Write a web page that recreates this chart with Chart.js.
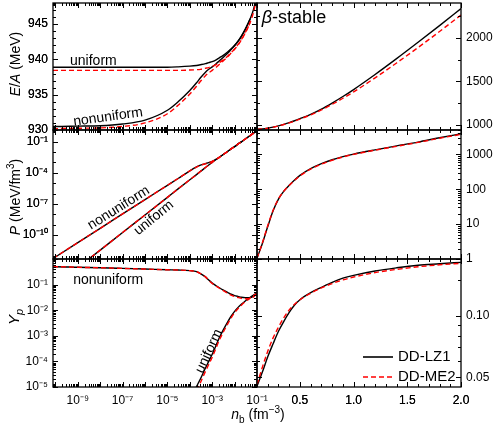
<!DOCTYPE html>
<html>
<head>
<meta charset="utf-8">
<script src="https://cdn.jsdelivr.net/npm/chart.js@4.4.0/dist/chart.umd.min.js"></script>
<style>
  body { margin: 0; background: #fff; }
  #wrap { position: relative; width: 498px; height: 430px; }
  #wrap canvas { position: absolute; left: 0; top: 0; }
</style>
</head>
<body>
<div id="wrap">
  <canvas id="p1" width="498" height="430"></canvas>
  <canvas id="p2" width="498" height="430"></canvas>
  <canvas id="p3" width="498" height="430"></canvas>
  <canvas id="p4" width="498" height="430"></canvas>
  <canvas id="p5" width="498" height="430"></canvas>
  <canvas id="p6" width="498" height="430"></canvas>
</div>
<script>
// ---- data ----
// low density side, n_b (fm^-3), log axis
const nbLow = [7.8e-11, 1e-10, 1e-9, 1e-8, 1e-7, 1e-6, 1e-5, 3e-5, 1e-4, 2e-4, 3e-4, 5e-4, 7e-4,
  1e-3, 1.5e-3, 2e-3, 3e-3, 5e-3, 7e-3, 1e-2, 1.5e-2, 2e-2, 3e-2, 5e-2, 7e-2, 1e-1];
// high density side, n_b (fm^-3), linear axis
const nbHigh = [0.1, 0.15, 0.2, 0.25, 0.3, 0.35, 0.4, 0.45, 0.5, 0.6, 0.7, 0.8, 0.9, 1.0, 1.2, 1.4, 1.6, 1.8, 2.0];

// E/A (MeV)
const eaUniLZ1 = [938.9, 938.9, 938.9, 938.9, 938.9, 938.9, 938.9, 938.95, 939.05, 939.15, 939.25, 939.4, 939.55,
  939.7, 939.95, 940.2, 940.55, 941.1, 941.5, 942.0, 942.7, 943.3, 944.3, 945.8, 947.1, 949.3];
const eaNonLZ1 = [930.5, 930.5, 930.55, 930.6, 930.85, 931.4, 932.8, 934.0, 935.6, 936.7, 937.4, 938.2, 938.6,
  938.95, 939.4, 939.75, 940.25, 940.9, 941.4, 941.95, 942.65, 943.25, 944.25, 945.75, null, null];
const eaUniME2 = [938.45, 938.45, 938.45, 938.45, 938.45, 938.45, 938.45, 938.45, 938.5, 938.55, 938.6, 938.75, 938.85,
  939.0, 939.25, 939.5, 939.9, 940.5, 940.95, 941.5, 942.2, 942.8, 943.8, 945.3, 946.7, 949.0];
const eaNonME2 = [930.2, 930.2, 930.25, 930.3, 930.5, 931.0, 932.3, 933.5, 935.1, 936.2, 936.9, 937.7, 938.1,
  938.45, 938.9, 939.25, 939.75, 940.4, 940.9, 941.45, 942.15, 942.75, 943.75, 945.25, null, null];
const eaBetaLZ1 = [949, 953, 961, 973, 988, 1005, 1024, 1046, 1070, 1120, 1180, 1250, 1325, 1405, 1578, 1760, 1948, 2140, 2335];
const eaBetaME2 = [949, 953, 960, 972, 986, 1003, 1021, 1043, 1066, 1113, 1170, 1235, 1305, 1378, 1540, 1710, 1888, 2072, 2262];

// P (MeV/fm^3)
const pNonLZ1 = [5.5e-13, 7.8e-13, 1.9e-11, 4.5e-10, 1.1e-8, 2.6e-7, 6.2e-6, 2.8e-5, 1.5e-4, 3.6e-4, 5.4e-4, 7.6e-4, 9.5e-4,
  1.26e-3, 2.0e-3, 2.9e-3, 5.4e-3, 1.17e-2, 2.0e-2, 3.3e-2, 6.3e-2, 9.5e-2, 0.178, 0.38, 0.66, 1.12];
const pUniLZ1 = [1e-15, 1.5e-15, 7.4e-14, 3.6e-12, 1.8e-10, 8.7e-9, 4.3e-7, 2.8e-6, 2.1e-5, 6.6e-5, 1.35e-4, 3.2e-4, 5.6e-4,
  1.0e-3, 1.9e-3, 2.95e-3, 5.4e-3, 1.17e-2, 2.0e-2, 3.3e-2, 6.3e-2, 9.5e-2, 0.178, 0.38, 0.66, 1.12];
const pNonME2 = [5.5e-13, 7.8e-13, 1.9e-11, 4.5e-10, 1.1e-8, 2.6e-7, 6.2e-6, 2.8e-5, 1.5e-4, 3.5e-4, 5.2e-4, 7.4e-4, 9.4e-4,
  1.25e-3, 2.0e-3, 2.9e-3, 5.3e-3, 1.15e-2, 2.0e-2, 3.3e-2, 6.2e-2, 9.4e-2, 0.175, 0.37, 0.65, 1.1];
const pUniME2 = [1e-15, 1.5e-15, 7.4e-14, 3.6e-12, 1.8e-10, 8.7e-9, 4.3e-7, 2.8e-6, 2.1e-5, 6.6e-5, 1.35e-4, 3.2e-4, 5.6e-4,
  1.0e-3, 1.9e-3, 2.9e-3, 5.3e-3, 1.15e-2, 2.0e-2, 3.3e-2, 6.2e-2, 9.4e-2, 0.175, 0.37, 0.65, 1.1];
const pBetaLZ1 = [1.05, 2.8, 8.5, 24, 52, 88, 130, 185, 250, 390, 540, 700, 860, 1020, 1350, 1750, 2250, 3000, 3900];
const pBetaME2 = [1.05, 2.9, 9.0, 25, 53, 88, 128, 180, 243, 380, 525, 680, 840, 1000, 1320, 1700, 2200, 2900, 3750];

// Y_p
const ypNonLZ1 = [0.50, 0.50, 0.475, 0.455, 0.43, 0.405, 0.38, 0.37, 0.35, 0.32, 0.27, 0.2, 0.15,
  0.115, 0.09, 0.077, 0.062, 0.049, 0.042, 0.037, 0.034, 0.032, 0.031, 0.031, 0.035, 0.044];
const ypUniLZ1 = [null, null, null, null, null, null, null, null, 3e-6, 1.05e-5, 2.1e-5, 5.5e-5, 1.0e-4,
  1.9e-4, 4.3e-4, 7.8e-4, 1.6e-3, 3.6e-3, 5.8e-3, 9e-3, 0.0135, 0.017, 0.023, 0.032, 0.039, 0.047];
const ypNonME2 = [0.50, 0.50, 0.475, 0.455, 0.43, 0.405, 0.38, 0.37, 0.35, 0.32, 0.27, 0.2, 0.148,
  0.112, 0.087, 0.074, 0.059, 0.046, 0.039, 0.034, 0.031, 0.029, 0.028, 0.029, 0.033, 0.044];
const ypUniME2 = [null, null, null, null, null, null, null, null, 2e-6, 7e-6, 1.5e-5, 4.1e-5, 7.6e-5,
  1.45e-4, 3.4e-4, 6.3e-4, 1.3e-3, 3.0e-3, 5.0e-3, 8e-3, 0.0122, 0.0157, 0.0215, 0.030, 0.037, 0.045];
const ypBetaLZ1 = [0.0452, 0.053, 0.063, 0.073, 0.084, 0.094, 0.104, 0.113, 0.12, 0.13, 0.138, 0.146, 0.153, 0.158,
  0.166, 0.172, 0.177, 0.180, 0.183];
const ypBetaME2 = [0.046, 0.056, 0.067, 0.078, 0.088, 0.098, 0.107, 0.114, 0.12, 0.129, 0.137, 0.144, 0.150, 0.155,
  0.163, 0.169, 0.174, 0.178, 0.181];

// tick labels
const nbLowLabelVals = [1e-9, 1e-7, 1e-5, 1e-3, 1e-1];
const nbLowLabels = ['10⁻⁹', '10⁻⁷', '10⁻⁵', '10⁻³', '10⁻¹'];
const nbHighLabelVals = [0.5, 1.0, 1.5, 2.0];
const nbHighLabels = ['0.5', '1.0', '1.5', '2.0'];
const eaLowLabelVals = [930, 935, 940, 945];
const eaHighLabelVals = [1000, 1500, 2000];
const pLowLabelVals = [1e-10, 1e-7, 1e-4, 1e-1];
const pLowLabels = ['10⁻¹⁰', '10⁻⁷', '10⁻⁴', '10⁻¹'];
const pHighLabelVals = [1, 10, 100, 1000];
const ypLowLabelVals = [1e-5, 1e-4, 1e-3, 1e-2, 1e-1];
const ypLowLabels = ['10⁻⁵', '10⁻⁴', '10⁻³', '10⁻²', '10⁻¹'];
const ypHighLabelVals = [0.05, 0.1];
const ypHighLabels = ['0.05', '0.10'];

// ---- layout ----
const W = 498, H = 430;
const COLS = { left: [53, 257], right: [257, 461] };
const ROWS = [[3, 130], [130, 259], [259, 387]];
const FONT = '"Liberation Sans", Arial, Helvetica, sans-serif';

function decades(e0, e1) {
  const out = [];
  for (let e = e0; e <= e1; e++) out.push(Math.pow(10, e));
  return out;
}
function subDecades(e0, e1) {
  const out = [];
  for (let e = e0; e <= e1; e++) for (let m = 2; m <= 9; m++) out.push(m * Math.pow(10, e));
  return out;
}
function steps(a, b, d) {
  const out = [];
  for (let v = a; v <= b + d / 1000; v += d) out.push(Math.round(v * 1e6) / 1e6);
  return out;
}

const axLowX = { type: 'logarithmic', min: 7.8e-11, max: 0.1, major: decades(-10, -1), minor: subDecades(-11, -2),
  labelVals: nbLowLabelVals, labels: nbLowLabels };
const axHighX = { type: 'linear', min: 0.1, max: 2.0, major: nbHighLabelVals, minor: steps(0.1, 2.0, 0.1),
  labelVals: nbHighLabelVals, labels: nbHighLabels };
const axEaLow = { type: 'linear', min: 930, max: 948, major: eaLowLabelVals, minor: steps(930, 948, 1),
  labelVals: eaLowLabelVals, labels: eaLowLabelVals.map(String) };
const axEaHigh = { type: 'linear', min: 940, max: 2400, major: eaHighLabelVals, minor: [1250, 1750, 2250],
  labelVals: eaHighLabelVals, labels: eaHighLabelVals.map(String) };
const axPLow = { type: 'logarithmic', min: 5e-13, max: 1.3, major: pLowLabelVals, minor: decades(-12, 0),
  labelVals: pLowLabelVals, labels: pLowLabels };
const axPHigh = { type: 'logarithmic', min: 1, max: 5000, major: pHighLabelVals, minor: subDecades(0, 3),
  labelVals: pHighLabelVals, labels: pHighLabelVals.map(String) };
const axYpLow = { type: 'logarithmic', min: 1e-5, max: 1, major: decades(-5, 0), minor: subDecades(-5, -1),
  labelVals: ypLowLabelVals, labels: ypLowLabels };
const axYpHigh = { type: 'logarithmic', min: 0.0448, max: 0.19, major: ypHighLabelVals, minor: [0.06, 0.07, 0.08, 0.09, 0.15],
  labelVals: ypHighLabelVals, labels: ypHighLabels };

function near(a, b) { return Math.abs(a - b) <= 1e-6 * Math.abs(b); }
function labelOf(ax, v) {
  const i = ax.labelVals.findIndex(u => near(v, u));
  return i < 0 ? '' : ax.labels[i];
}

function scaleCfg(ax, pos, size, show) {
  return {
    type: ax.type, min: ax.min, max: ax.max, position: pos,
    grid: { display: false, drawTicks: false }, border: { display: false },
    ticks: {
      display: show, autoSkip: false, maxRotation: 0, minRotation: 0,
      padding: pos === 'bottom' ? 6 : 5, color: '#000',
      font: { family: FONT, size: 12 },
      callback: v => labelOf(ax, v)
    },
    afterBuildTicks: s => {
      s.ticks = ax.major.concat(ax.minor)
        .filter(v => v >= ax.min * 0.99999 && v <= ax.max * 1.00001)
        .sort((a, b) => a - b)
        .map(v => ({ value: v }));
    },
    afterFit: s => {
      if (pos === 'bottom') s.height = size; else s.width = size;
      s.paddingLeft = 0; s.paddingRight = 0; s.paddingTop = 0; s.paddingBottom = 0;
    }
  };
}

function pts(xs, ys) { return xs.map((x, i) => ({ x: x, y: ys[i] })); }
function lz1(xs, ys) {
  return { label: 'DD-LZ1', data: pts(xs, ys), borderColor: '#000000', borderWidth: 1.4, order: 2 };
}
function me2(xs, ys) {
  return { label: 'DD-ME2', data: pts(xs, ys), borderColor: '#ff0000', borderWidth: 1.4, borderDash: [5, 3], order: 1 };
}

// mixed italic / sub / superscript text
function rich(ctx, parts, x, y, rot, size, align) {
  ctx.save();
  ctx.translate(x, y);
  ctx.rotate(rot);
  const fontOf = p => {
    const small = p[1].includes('_') || p[1].includes('^');
    return (p[1].includes('i') ? 'italic ' : '') + (small ? Math.round(size * 0.7) : size) + 'px ' + FONT;
  };
  let total = 0;
  parts.forEach(p => { ctx.font = fontOf(p); total += ctx.measureText(p[0]).width; });
  let cx = align === 'left' ? 0 : -total / 2;
  ctx.fillStyle = '#000';
  ctx.textAlign = 'left';
  ctx.textBaseline = 'alphabetic';
  parts.forEach(p => {
    ctx.font = fontOf(p);
    let dy = size * 0.36;
    if (p[1].includes('_')) dy += size * 0.25;
    if (p[1].includes('^')) dy -= size * 0.42;
    ctx.fillText(p[0], cx, dy);
    cx += ctx.measureText(p[0]).width;
  });
  ctx.restore();
}

function makePanel(id, p) {
  const [l, r] = COLS[p.col];
  const [t, b] = ROWS[p.row];
  const yLeft = p.col === 'left';
  const xh = p.row === 2 ? 32 : 0;
  const yw = yLeft ? l : 37;
  const deco = {
    id: 'deco',
    afterDraw(chart) {
      const ctx = chart.ctx, a = chart.chartArea;
      const sx = chart.scales.x, sy = chart.scales.y;
      ctx.save();
      ctx.strokeStyle = '#000';
      ctx.lineWidth = 1;
      ctx.beginPath();
      sx.ticks.forEach(tk => {
        const px = Math.round(sx.getPixelForValue(tk.value)) + 0.5;
        const len = p.x.major.some(v => near(tk.value, v)) ? 5 : 3;
        ctx.moveTo(px, a.bottom); ctx.lineTo(px, a.bottom - len);
        ctx.moveTo(px, a.top); ctx.lineTo(px, a.top + len);
      });
      sy.ticks.forEach(tk => {
        const py = Math.round(sy.getPixelForValue(tk.value)) + 0.5;
        const len = p.y.major.some(v => near(tk.value, v)) ? 5 : 3;
        ctx.moveTo(a.left, py); ctx.lineTo(a.left + len, py);
        ctx.moveTo(a.right, py); ctx.lineTo(a.right - len, py);
      });
      ctx.stroke();
      ctx.lineWidth = 1.3;
      ctx.strokeRect(a.left, a.top, a.right - a.left, a.bottom - a.top);
      (p.notes || []).forEach(n => {
        rich(ctx, n.parts, sx.getPixelForValue(n.x), sy.getPixelForValue(n.y), (n.rot || 0) * Math.PI / 180,
          n.size || 14, n.align || 'center');
      });
      if (p.legend) {
        chart.data.datasets.slice(0, 2).forEach((ds, i) => {
          const yy = a.bottom - 30 + i * 20;
          ctx.beginPath();
          ctx.strokeStyle = ds.borderColor;
          ctx.lineWidth = 1.6;
          ctx.setLineDash(ds.borderDash || []);
          ctx.moveTo(a.right - 98, yy); ctx.lineTo(a.right - 68, yy);
          ctx.stroke();
          ctx.setLineDash([]);
          ctx.fillStyle = '#000';
          ctx.font = '15px ' + FONT;
          ctx.textBaseline = 'middle';
          ctx.textAlign = 'left';
          ctx.fillText(ds.label, a.right - 63, yy);
        });
      }
      (p.titles || []).forEach(tt => rich(ctx, tt.parts, tt.px, tt.py, tt.rot * Math.PI / 180, tt.size, 'center'));
      ctx.restore();
    }
  };
  return new Chart(document.getElementById(id), {
    type: 'line',
    data: { datasets: p.sets },
    options: {
      responsive: false,
      animation: false,
      events: [],
      layout: { padding: { left: yLeft ? 0 : l, right: yLeft ? W - r : 0, top: t, bottom: H - b - xh } },
      elements: { point: { radius: 0 }, line: { tension: 0, cubicInterpolationMode: 'monotone', fill: false } },
      plugins: { legend: { display: false }, tooltip: { enabled: false } },
      scales: {
        x: scaleCfg(p.x, 'bottom', xh, p.row === 2),
        y: scaleCfg(p.y, yLeft ? 'left' : 'right', yw, true)
      }
    },
    plugins: [deco]
  });
}

// order: LZ1 first for legend
makePanel('p1', {
  col: 'left', row: 0, x: axLowX, y: axEaLow,
  sets: [lz1(nbLow, eaUniLZ1), me2(nbLow, eaUniME2), lz1(nbLow, eaNonLZ1), me2(nbLow, eaNonME2)],
  notes: [
    { parts: [['uniform', '']], x: 4.5e-10, y: 939.9, align: 'left' },
    { parts: [['nonuniform', '']], x: 2.2e-8, y: 932.0, rot: -8 }
  ],
  titles: [
    { parts: [['E', 'i'], ['/', ''], ['A', 'i'], [' (MeV)', '']], px: 15, py: 64, rot: -90, size: 14 },
    { parts: [['P', 'i'], [' (MeV/fm', ''], ['3', '^'], [')', '']], px: 15, py: 197, rot: -90, size: 14 },
    { parts: [['Y', 'i'], ['p', 'i_']], px: 14, py: 317, rot: -90, size: 15 },
    { parts: [['n', 'i'], ['b', '_'], [' (fm', ''], ['−3', '^'], [')', '']], px: 258, py: 414, rot: 0, size: 14 }
  ]
});
makePanel('p2', {
  col: 'right', row: 0, x: axHighX, y: axEaHigh,
  sets: [lz1(nbHigh, eaBetaLZ1), me2(nbHigh, eaBetaME2)],
  notes: [{ parts: [['β', 'i'], ['-stable', '']], x: 0.145, y: 2240, size: 18, align: 'left' }]
});
makePanel('p3', {
  col: 'left', row: 1, x: axLowX, y: axPLow,
  sets: [lz1(nbLow, pUniLZ1), me2(nbLow, pUniME2), lz1(nbLow, pNonLZ1), me2(nbLow, pNonME2)],
  notes: [
    { parts: [['nonuniform', '']], x: 6.3e-8, y: 5.1e-8, rot: -32 },
    { parts: [['uniform', '']], x: 2.3e-6, y: 5.6e-9, rot: -39 }
  ]
});
makePanel('p4', {
  col: 'right', row: 1, x: axHighX, y: axPHigh,
  sets: [lz1(nbHigh, pBetaLZ1), me2(nbHigh, pBetaME2)]
});
makePanel('p5', {
  col: 'left', row: 2, x: axLowX, y: axYpLow,
  sets: [lz1(nbLow, ypNonLZ1), me2(nbLow, ypNonME2), lz1(nbLow, ypUniLZ1), me2(nbLow, ypUniME2)],
  notes: [
    { parts: [['nonuniform', '']], x: 6.2e-10, y: 0.17, align: 'left' },
    { parts: [['uniform', '']], x: 6.5e-4, y: 2.6e-4, rot: -65 }
  ]
});
makePanel('p6', {
  col: 'right', row: 2, x: axHighX, y: axYpHigh,
  sets: [lz1(nbHigh, ypBetaLZ1), me2(nbHigh, ypBetaME2)],
  legend: true
});
</script>
</body>
</html>
